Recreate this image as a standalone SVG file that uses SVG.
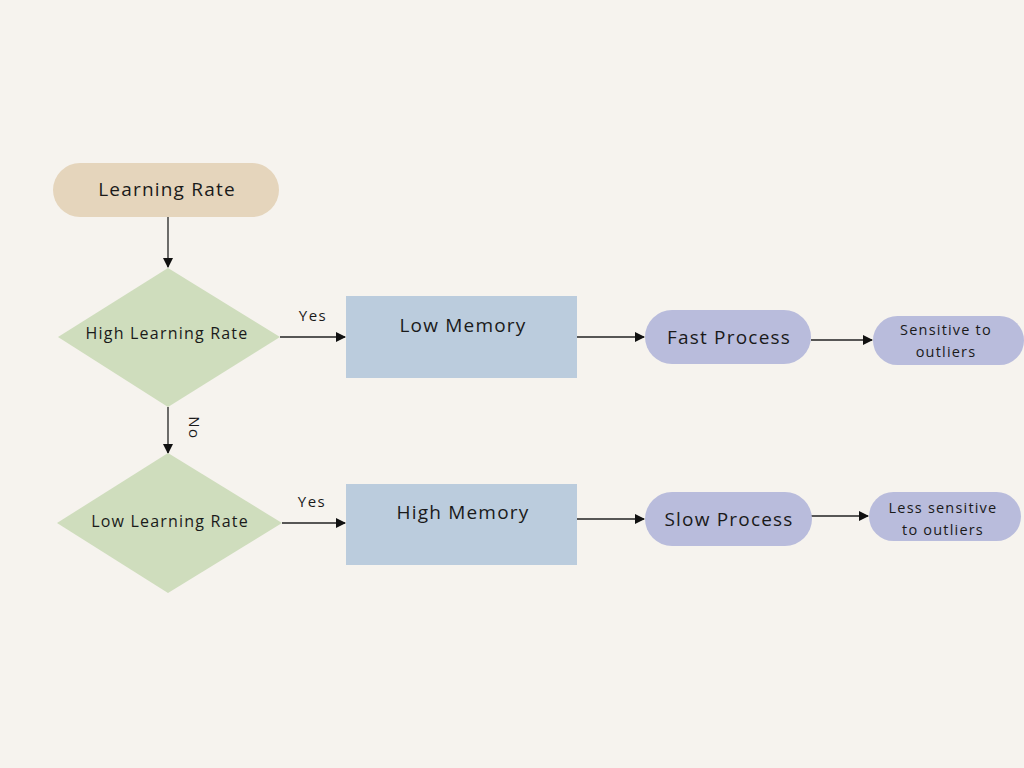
<svg xmlns="http://www.w3.org/2000/svg" width="1024" height="768" viewBox="0 0 1024 768">
<defs>
<marker id="ah" viewBox="0 0 10 10" refX="9" refY="5" markerWidth="10" markerHeight="10" markerUnits="userSpaceOnUse" orient="auto">
<path d="M0,0 L10,5 L0,10 z" fill="#111"/>
</marker>
<style>
text{font-family:"Open Sans","Liberation Sans",sans-serif;fill:#1a1a1a;text-anchor:middle;dominant-baseline:central;letter-spacing:1.2px}
.c{stroke:#222;stroke-width:1.3;fill:none;marker-end:url(#ah)}
.pill{fill:#B9BCDC}
.rect{fill:#BBCCDD}
.dia{fill:#CFDDBD}
.lbl{font-size:15px;letter-spacing:1.5px}
</style>
</defs>
<rect width="1024" height="768" fill="#F6F3EE"/>
<g id="connectors">
<line class="c" x1="168" y1="217" x2="168" y2="267"/>
<line class="c" x1="280" y1="337" x2="345" y2="337"/>
<line class="c" x1="577" y1="337" x2="644" y2="337"/>
<line class="c" x1="811" y1="340" x2="872" y2="340"/>
<line class="c" x1="168" y1="407" x2="168" y2="453"/>
<line class="c" x1="282" y1="523" x2="345" y2="523"/>
<line class="c" x1="577" y1="519" x2="644" y2="519"/>
<line class="c" x1="809" y1="516" x2="868" y2="516"/>
<text x="313" y="315" class="lbl">Yes</text>
<text x="312" y="501" class="lbl">Yes</text>
<text x="195" y="428" class="lbl" transform="rotate(90 195 428)">No</text>
</g>
<g id="learning-rate">
<rect x="53" y="163" width="226" height="54" rx="27" fill="#E5D5BC"/>
<text x="167" y="189" font-size="19">Learning Rate</text>
</g>
<g id="high-learning-rate">
<polygon class="dia" points="168,268 280,337 168,407 58,337"/>
<text x="167" y="333" font-size="16">High Learning Rate</text>
</g>
<g id="low-memory">
<rect class="rect" x="346" y="296" width="231" height="82"/>
<text x="463" y="325" font-size="19">Low Memory</text>
</g>
<g id="fast-process">
<rect class="pill" x="645" y="310" width="166" height="54" rx="27"/>
<text x="729" y="337" font-size="19">Fast Process</text>
</g>
<g id="sensitive">
<rect class="pill" x="873" y="316" width="151" height="49" rx="24.5"/>
<text x="946" y="329" font-size="14.5">Sensitive to</text>
<text x="946" y="351" font-size="14.5">outliers</text>
</g>
<g id="low-learning-rate">
<polygon class="dia" points="168,453 282,523 168,593 57,523"/>
<text x="170" y="521" font-size="16">Low Learning Rate</text>
</g>
<g id="high-memory">
<rect class="rect" x="346" y="484" width="231" height="81"/>
<text x="463" y="512" font-size="19">High Memory</text>
</g>
<g id="slow-process">
<rect class="pill" x="645" y="492" width="167" height="54" rx="27"/>
<text x="729" y="519" font-size="19">Slow Process</text>
</g>
<g id="less-sensitive">
<rect class="pill" x="869" y="492" width="152" height="49" rx="24.5"/>
<text x="943" y="507" font-size="14.5">Less sensitive</text>
<text x="943" y="529" font-size="14.5">to outliers</text>
</g>
</svg>
